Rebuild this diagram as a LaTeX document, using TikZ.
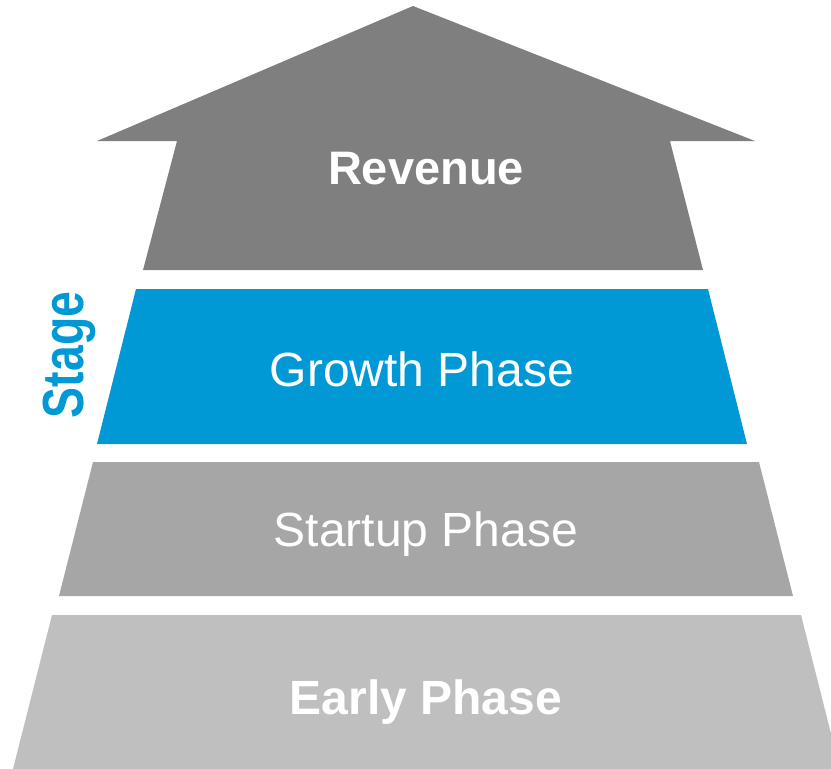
\documentclass[tikz,border=0pt]{standalone}
\usepackage{fontspec}
\setmainfont{Liberation Sans}
\usepackage{tikz}
\definecolor{revgray}{HTML}{7F7F7F}
\definecolor{growblue}{HTML}{0099D6}
\definecolor{startgray}{HTML}{A6A6A6}
\definecolor{earlygray}{HTML}{BFBFBF}
\tikzset{every picture/.style={x=1pt,y=-1pt}}
\tikzset{phasetext/.style={text=white, inner sep=0pt, anchor=base, font=\fontsize{48}{57}\selectfont}}

\begin{document}
\begin{tikzpicture}
    \useasboundingbox (0,0) rectangle (831,769);
    % arrow on top
    \fill[revgray] (413,6) -- (755,141) -- (670,141) -- (703,270) -- (143,270) -- (177,141) -- (97,141) -- cycle;
    % the three steps
    \fill[growblue] (136,289) -- (708,289) -- (747,444) -- (97,444) -- cycle;
    \fill[startgray] (93,462) -- (759,462) -- (793,596) -- (59,596) -- cycle;
    \fill[earlygray] (52,615) -- (801,615) -- (840,769) -- (13,769) -- cycle;
    \node[phasetext, font=\fontsize{47}{56}\selectfont\bfseries] (revenue) at (426,184) {Revenue};
    \node[phasetext] (growth) at (422,386) {Growth Phase};
    \node[phasetext] (startup) at (426,546) {Startup Phase};
    \node[phasetext, font=\fontsize{48}{57}\selectfont\bfseries] (early) at (426,714) {Early Phase};
    \node[text=growblue, inner sep=0pt, rotate=90, xscale=0.8, font=\fontsize{58}{68}\selectfont\bfseries] (stage) at (69,355) {Stage};
\end{tikzpicture}
\end{document}
